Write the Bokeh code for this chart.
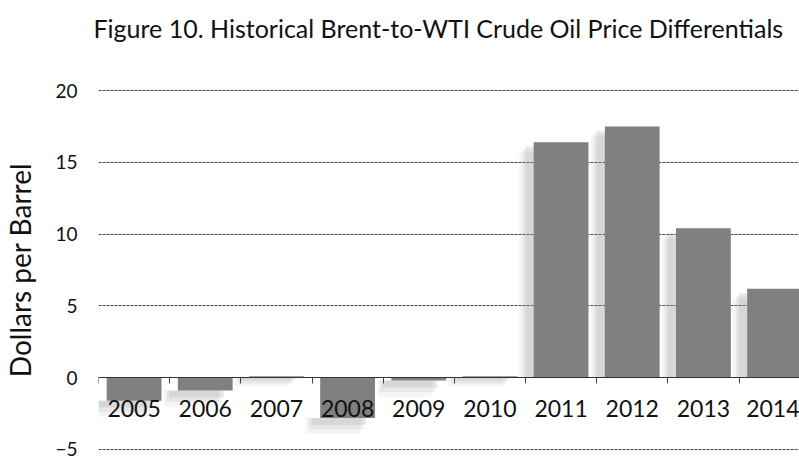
from bokeh.plotting import figure
from bokeh.models import FixedTicker, Range1d, ColumnDataSource, Title
from bokeh.embed import file_html
from bokeh.resources import INLINE

years = ["2005", "2006", "2007", "2008", "2009", "2010", "2011", "2012", "2013", "2014"]
diff = [-1.6, -0.9, 0.1, -2.8, -0.2, 0.1, 16.4, 17.5, 10.4, 6.2]
y_ticks = [-5, 0, 5, 10, 15, 20]
title_text = "Figure 10. Historical Brent-to-WTI Crude Oil Price Differentials"

idx = list(range(len(years)))
src = ColumnDataSource(dict(x=idx, top=diff, bottom=[0] * len(diff)))

FONT = "Lato"

p = figure(width=799, height=459, output_backend="svg", toolbar_location=None, title=None,
           x_range=Range1d(-0.5, 9.35), y_range=Range1d(-5.28, 20.28),
           min_border_left=95, min_border_right=0, min_border_bottom=6, min_border_top=86)

# spacer between frame and title, then the title itself
p.add_layout(Title(text=" ", text_font_size="1px", standoff=36), "above")
p.add_layout(Title(text=title_text, align="left", offset=-5, standoff=10,
                   text_font=FONT, text_font_size="25px", text_font_style="normal",
                   text_color="#111111"), "above")

# soft shadow layers (offset left & down)
for dx, dy, a in [(-0.20, -0.7, 0.10), (-0.16, -0.5, 0.15), (-0.12, -0.3, 0.2)]:
    shadow_top = [v + dy if v > 0 else min(v, 0) for v in diff]
    shadow_bot = [v + dy * 1.6 if v < 0 else 0 for v in diff]
    shadow_src = ColumnDataSource(dict(x=[i + dx for i in idx], top=shadow_top, bottom=shadow_bot))
    p.vbar(x="x", top="top", bottom="bottom", width=0.77, source=shadow_src,
           fill_color="#9a9a9a", fill_alpha=a, line_color=None)

p.vbar(x="x", top="top", bottom="bottom", width=0.77, source=src,
       fill_color="#808080", line_color=None)

# x axis at zero
xa = p.xaxis[0]
xa.fixed_location = 0
xa.ticker = FixedTicker(ticks=idx, minor_ticks=[i - 0.5 for i in range(len(years) + 1)])
xa.major_label_overrides = {i: y for i, y in enumerate(years)}
xa.major_tick_line_color = None
xa.minor_tick_in = 0
xa.minor_tick_out = 6
xa.minor_tick_line_color = "#444444"
xa.axis_line_color = "#333333"
xa.major_label_text_font = FONT
xa.major_label_text_font_size = "23px"
xa.major_label_text_color = "#111111"
xa.major_label_standoff = 16

ya = p.yaxis[0]
ya.ticker = FixedTicker(ticks=y_ticks)
ya.axis_line_color = None
ya.major_tick_line_color = None
ya.minor_tick_line_color = None
ya.major_tick_out = 0
ya.major_tick_in = 0
ya.major_label_text_font = FONT
ya.major_label_text_font_size = "19px"
ya.major_label_text_line_height = 1.0
ya.major_label_text_color = "#111111"
ya.major_label_standoff = 21
ya.axis_label = "Dollars per Barrel"
ya.axis_label_text_font = FONT
ya.axis_label_text_font_size = "28px"
ya.axis_label_text_font_style = "normal"
ya.axis_label_text_color = "#111111"
ya.axis_label_standoff = 15

p.xgrid.grid_line_color = None
p.ygrid.grid_line_color = "#444444"
p.ygrid.grid_line_dash = "3 1"
p.ygrid.grid_line_width = 1
p.outline_line_color = None
p.background_fill_color = "white"
p.border_fill_color = "white"

open("out.html", "w").write(file_html(p, INLINE))
